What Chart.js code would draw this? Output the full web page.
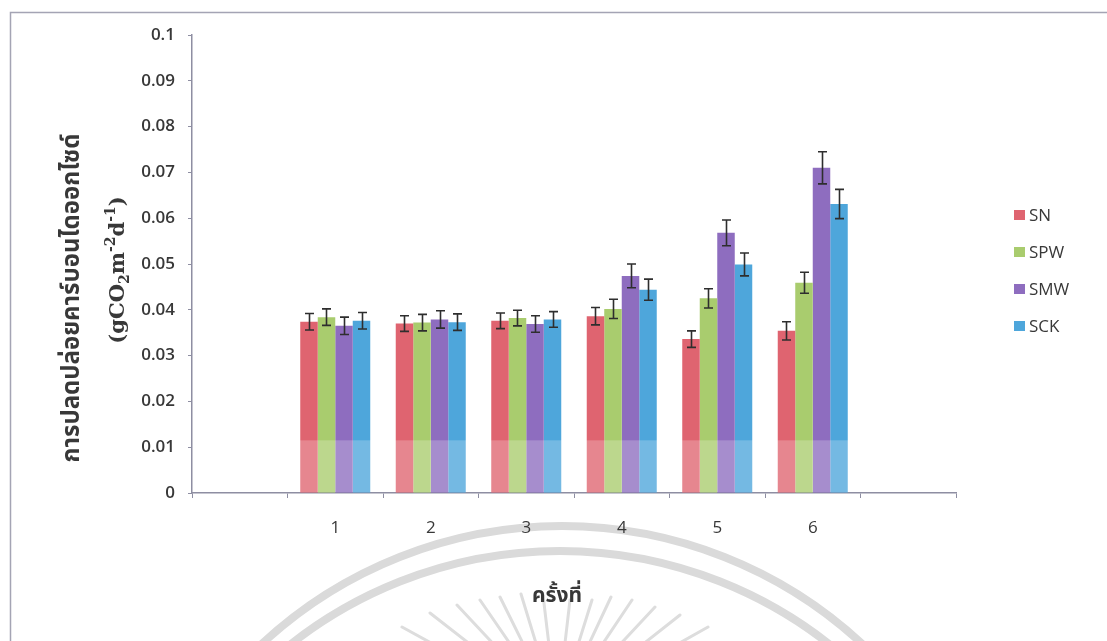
<!DOCTYPE html>
<html>
<head>
<meta charset="utf-8">
<script src="https://cdn.jsdelivr.net/npm/chart.js@4.4.1/dist/chart.umd.min.js"></script>
<style>
  html, body { margin: 0; padding: 0; background: #ffffff; }
  #wrap { width: 1107px; height: 641px; position: relative; }
</style>
</head>
<body>
<div id="wrap"><canvas id="chart" width="1107" height="641"></canvas></div>
<script>
// Sampling rounds (empty slots pad both ends of the axis)
const rounds = ['', '1', '2', '3', '4', '5', '6', ''];
const seriesNames = ['SN', 'SPW', 'SMW', 'SCK'];

// CO2 emission, g CO2 m^-2 d^-1
const snValues  = [null, 0.0374, 0.0370, 0.0376, 0.0386, 0.0336, 0.0354, null];
const spwValues = [null, 0.0384, 0.0372, 0.0382, 0.0402, 0.0425, 0.0459, null];
const smwValues = [null, 0.0365, 0.0379, 0.0369, 0.0474, 0.0568, 0.0710, null];
const sckValues = [null, 0.0376, 0.0373, 0.0379, 0.0444, 0.0499, 0.0631, null];

// Error (± half-range)
const snErrors  = [null, 0.0018, 0.0017, 0.0017, 0.0019, 0.0018, 0.0020, null];
const spwErrors = [null, 0.0018, 0.0018, 0.0017, 0.0021, 0.0021, 0.0023, null];
const smwErrors = [null, 0.0019, 0.0019, 0.0018, 0.0026, 0.0028, 0.0035, null];
const sckErrors = [null, 0.0018, 0.0018, 0.0017, 0.0023, 0.0025, 0.0032, null];

const yTickLabels = ['0', '0.01', '0.02', '0.03', '0.04', '0.05', '0.06', '0.07', '0.08', '0.09', '0.1'];

const seriesColors = ['#DF6470', '#A9CC6E', '#8E6DBF', '#4EA6DB'];
const axisColor = '#8e8ea2';
const textColor = '#383838';
const thaiFont = "'Noto Sans Thai', 'Noto Sans', Loma, Garuda, 'Tlwg Typo', 'DejaVu Sans', sans-serif";

const valueSets = [snValues, spwValues, smwValues, sckValues];
const errorSets = [snErrors, spwErrors, smwErrors, sckErrors];

// Page watermark: faint seal arcs and rays behind the chart
const watermark = {
  id: 'watermark',
  beforeDraw(chart) {
    const ctx = chart.ctx;
    ctx.save();
    ctx.strokeStyle = '#dadada';
    ctx.lineWidth = 8;
    ctx.beginPath();
    ctx.arc(562, 967, 441, Math.PI, 2 * Math.PI);
    ctx.stroke();
    ctx.beginPath();
    ctx.arc(560, 986, 435, Math.PI, 2 * Math.PI);
    ctx.stroke();
    const tips = [[402, 627], [430, 613], [457, 605], [480, 600], [500, 597], [521, 594],
                  [543, 595], [570, 600], [592, 600], [611, 597], [632, 600], [655, 607],
                  [680, 615], [708, 627]];
    const cx = 557, cy = 712;
    ctx.strokeStyle = '#dddddd';
    ctx.lineWidth = 3;
    ctx.lineCap = 'round';
    tips.forEach(([tx, ty]) => {
      const dx = cx - tx, dy = cy - ty;
      const len = Math.hypot(dx, dy);
      ctx.beginPath();
      ctx.moveTo(tx, ty);
      ctx.lineTo(tx + dx / len * 70, ty + dy / len * 70);
      ctx.stroke();
    });
    // page frame
    ctx.strokeStyle = '#a4a4b4';
    ctx.lineWidth = 1.5;
    ctx.beginPath();
    ctx.moveTo(10.5, 700);
    ctx.lineTo(10.5, 12.5);
    ctx.lineTo(1200, 12.5);
    ctx.stroke();
    ctx.restore();
  }
};

// Lighter band across the lower part of the bars
const lowerBand = {
  id: 'lowerBand',
  afterDatasetsDraw(chart) {
    const { ctx, chartArea, scales } = chart;
    const yTop = scales.y.getPixelForValue(0.0115);
    const yBottom = scales.y.getPixelForValue(0) - 1;
    ctx.save();
    ctx.fillStyle = 'rgba(255,255,255,0.22)';
    ctx.fillRect(chartArea.left + 2, yTop, chartArea.right - chartArea.left - 2, yBottom - yTop);
    ctx.restore();
  }
};

// Error bars drawn from the value and error arrays through the y scale
const errorBars = {
  id: 'errorBars',
  afterDatasetsDraw(chart) {
    const ctx = chart.ctx;
    const yScale = chart.scales.y;
    ctx.save();
    ctx.strokeStyle = '#2e2e2e';
    ctx.lineWidth = 1.6;
    chart.data.datasets.forEach((ds, i) => {
      const meta = chart.getDatasetMeta(i);
      meta.data.forEach((bar, j) => {
        const v = ds.data[j];
        const e = errorSets[i][j];
        if (v == null || e == null) return;
        const x = Math.round(bar.x) + 0.5;
        const yHi = yScale.getPixelForValue(v + e);
        const yLo = yScale.getPixelForValue(v - e);
        ctx.beginPath();
        ctx.moveTo(x, yHi);
        ctx.lineTo(x, yLo);
        ctx.moveTo(x - 4.5, yHi);
        ctx.lineTo(x + 4.5, yHi);
        ctx.moveTo(x - 4.5, yLo);
        ctx.lineTo(x + 4.5, yLo);
        ctx.stroke();
      });
    });
    ctx.restore();
  }
};

// Axis titles and series key
const labelsAndKey = {
  id: 'labelsAndKey',
  afterDraw(chart) {
    const ctx = chart.ctx;
    ctx.save();
    ctx.fillStyle = textColor;

    // y title, first line
    ctx.save();
    ctx.translate(74, 298);
    ctx.rotate(-Math.PI / 2);
    ctx.font = 'bold 24px ' + thaiFont;
    ctx.textAlign = 'center';
    ctx.textBaseline = 'middle';
    ctx.fillText('การปลดปล่อยคาร์บอนไดออกไซด์', 0, 0);
    ctx.restore();

    // y title, unit line with sub/superscripts
    ctx.save();
    ctx.translate(119, 270);
    ctx.rotate(-Math.PI / 2);
    const big = "bold 21px 'DejaVu Serif', serif";
    const small = "bold 14px 'DejaVu Serif', serif";
    const parts = [['(gCO', big, 0], ['2', small, 6], ['m', big, 0], ['-2', small, -8],
                   ['d', big, 0], ['-1', small, -8], [')', big, 0]];
    let total = 0;
    parts.forEach(([t, f]) => { ctx.font = f; total += ctx.measureText(t).width; });
    let px = -total / 2;
    ctx.textBaseline = 'middle';
    ctx.textAlign = 'left';
    parts.forEach(([t, f, dy]) => {
      ctx.font = f;
      ctx.fillText(t, px, dy);
      px += ctx.measureText(t).width;
    });
    ctx.restore();

    // x title
    ctx.font = 'bold 21px ' + thaiFont;
    ctx.textAlign = 'center';
    ctx.textBaseline = 'middle';
    ctx.fillText('ครั้งที่', 557, 598);

    // series key
    ctx.font = "17px 'Open Sans', sans-serif";
    ctx.textAlign = 'left';
    chart.data.datasets.forEach((ds, i) => {
      const y = 215 + i * 37;
      ctx.fillStyle = ds.backgroundColor;
      ctx.fillRect(1014, y - 5, 11, 10);
      ctx.fillStyle = textColor;
      ctx.fillText(ds.label, 1029, y + 1);
    });
    ctx.restore();
  }
};

new Chart(document.getElementById('chart'), {
  type: 'bar',
  data: {
    labels: rounds,
    datasets: seriesNames.map((name, i) => ({
      label: name,
      data: valueSets[i],
      backgroundColor: seriesColors[i],
      borderWidth: 0,
      barPercentage: 1.0,
      categoryPercentage: 0.733
    }))
  },
  options: {
    responsive: false,
    animation: false,
    devicePixelRatio: 1,
    layout: { padding: { top: 35, right: 151, bottom: 0, left: 0 } },
    plugins: {
      legend: { display: false },
      tooltip: { enabled: false },
      title: { display: false }
    },
    scales: {
      x: {
        offset: true,
        grid: { offset: true, drawOnChartArea: false, drawTicks: true, tickLength: 5, color: axisColor, lineWidth: 1 },
        border: { color: axisColor, width: 1.5 },
        ticks: { color: textColor, font: { family: "'Open Sans', sans-serif", size: 17 }, padding: 20, maxRotation: 0, autoSkip: false },
        afterFit(scale) { scale.height = 148; }
      },
      y: {
        min: 0,
        max: 0.1,
        ticks: {
          stepSize: 0.01,
          color: textColor,
          padding: 13,
          font: { family: "'Open Sans', sans-serif", size: 17, weight: '600' },
          callback: (value, index) => yTickLabels[index]
        },
        grid: { drawOnChartArea: false, drawTicks: true, tickLength: 4, color: axisColor, lineWidth: 1 },
        border: { color: axisColor, width: 1.5 },
        afterFit(scale) { scale.width = 192; }
      }
    }
  },
  plugins: [watermark, lowerBand, errorBars, labelsAndKey]
});
</script>
</body>
</html>
